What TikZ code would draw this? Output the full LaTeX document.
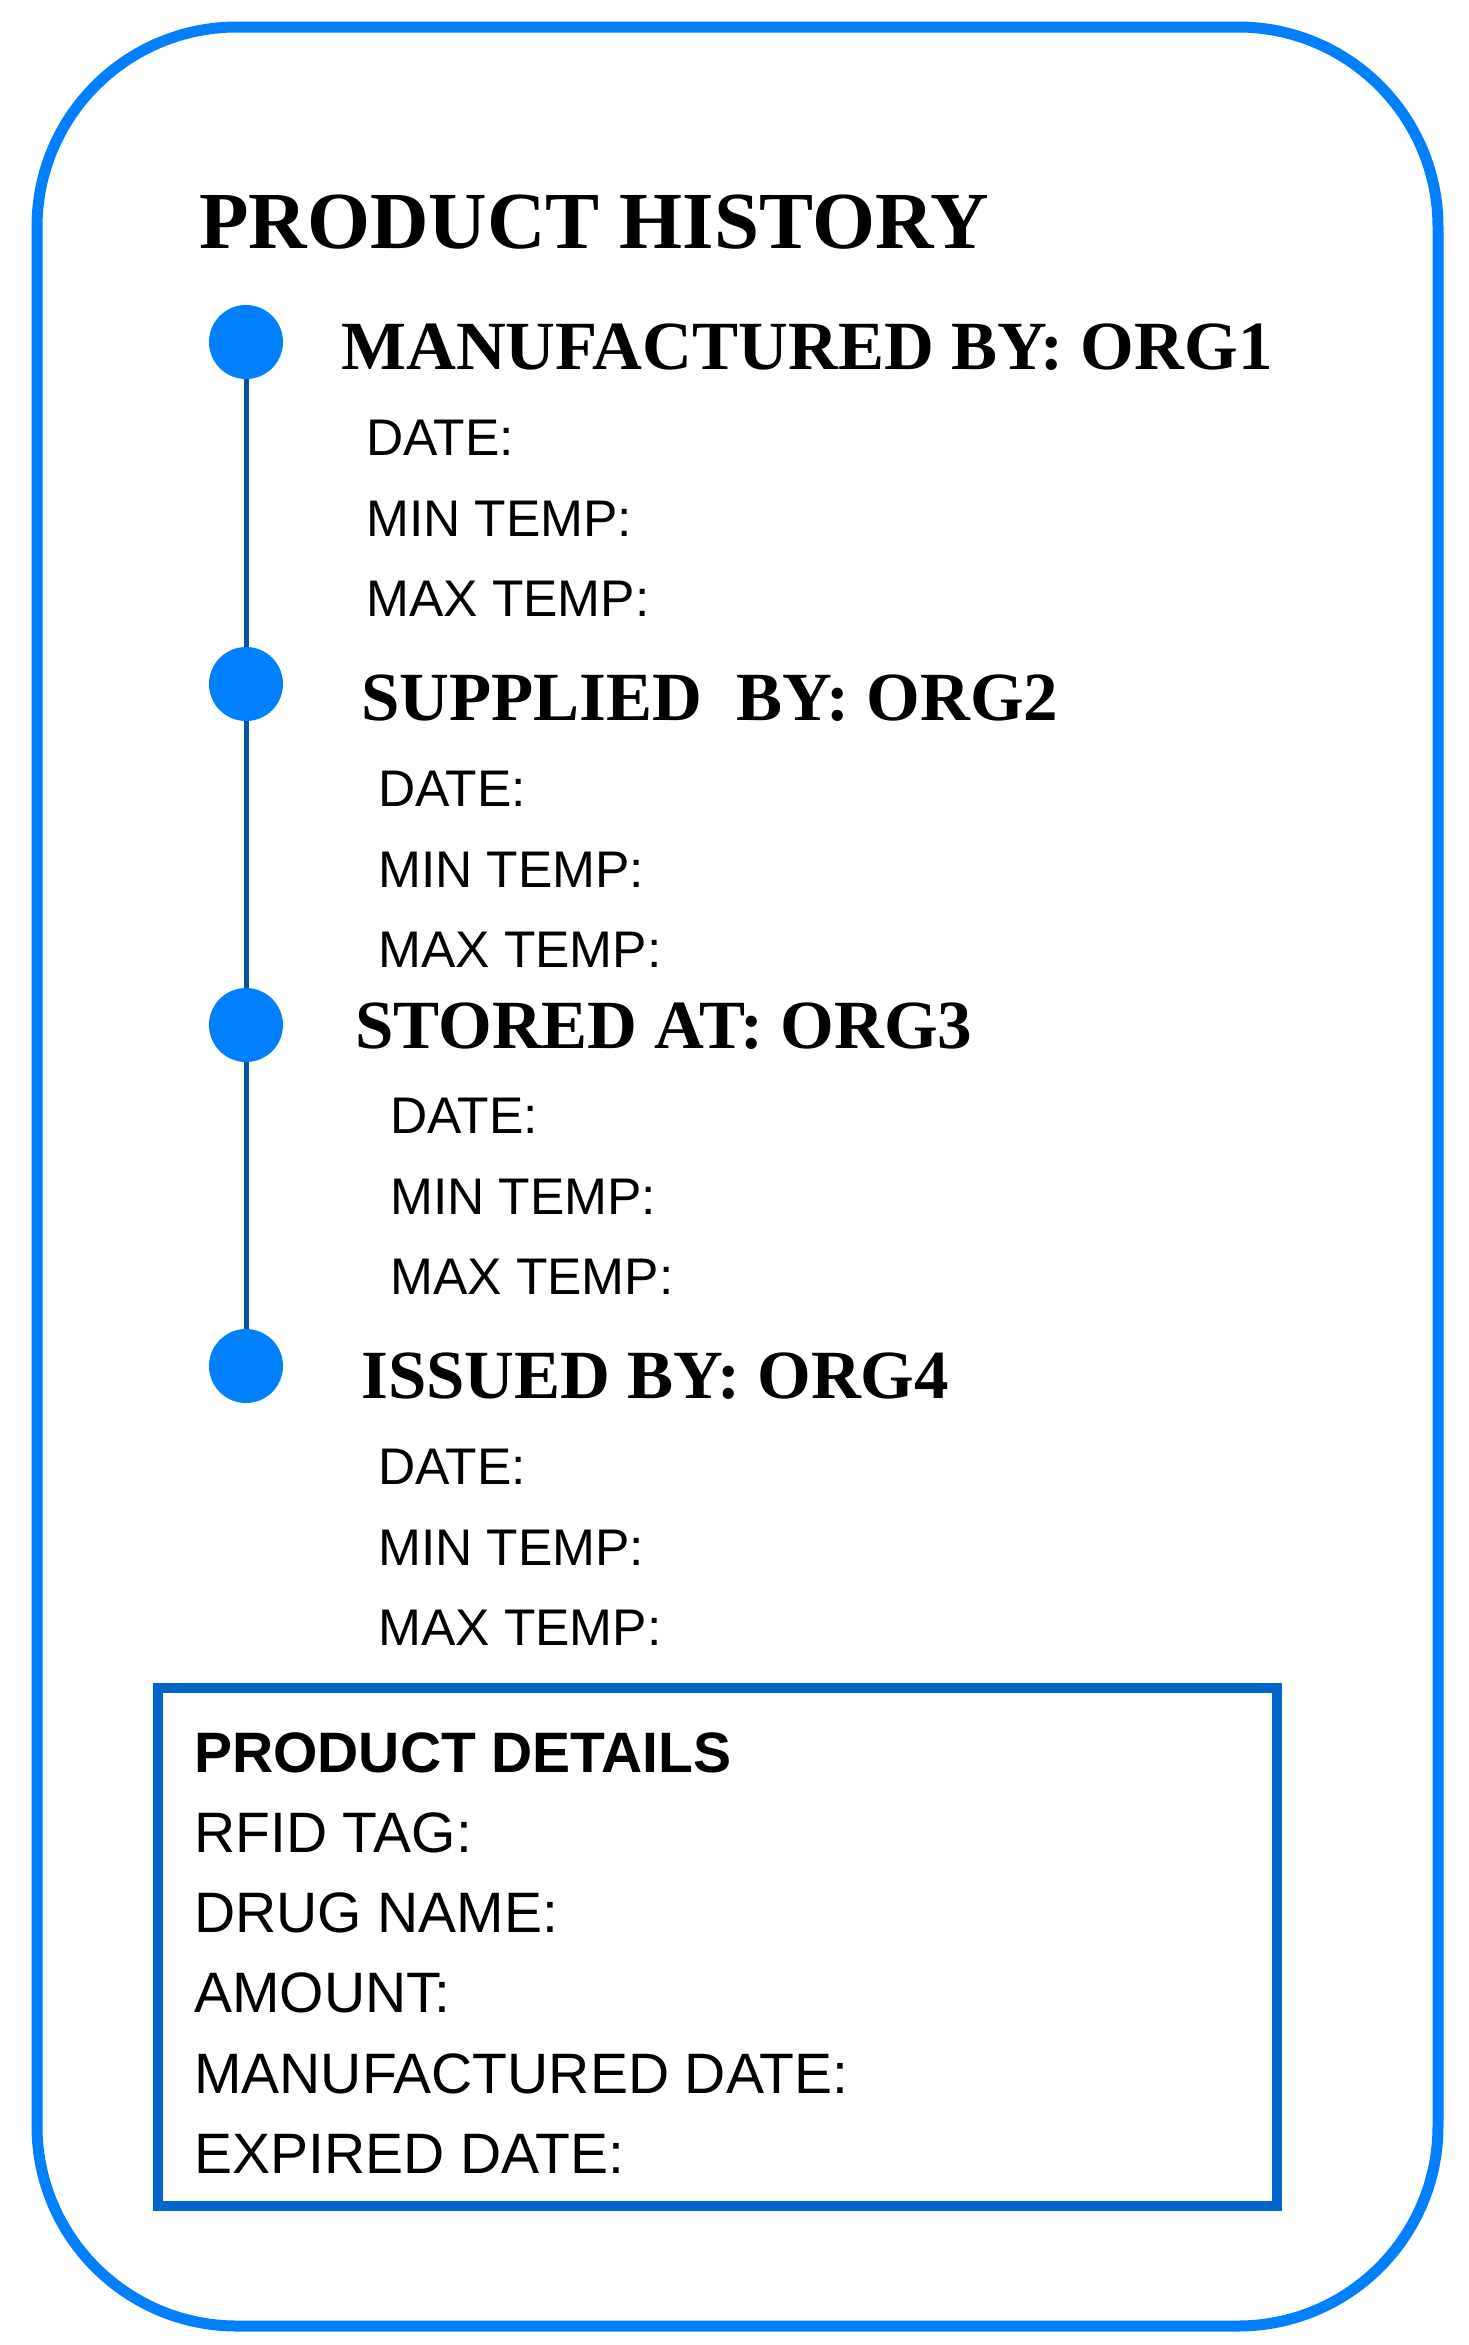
\documentclass[tikz,border=0pt]{standalone}
\usepackage{fontspec}
\setmainfont{Liberation Serif}
\setsansfont{Liberation Sans}
\definecolor{cardblue}{RGB}{0,128,255}
\definecolor{boxblue}{RGB}{2,102,204}
\definecolor{lineblue}{RGB}{6,82,164}
\begin{document}
\begin{tikzpicture}[x=1pt,y=-1pt,
			dot node/.style={circle,fill=cardblue,minimum size=74pt,inner sep=0pt},
			title node/.style={anchor=base west,inner sep=0pt,font=\fontsize{81}{90}\selectfont\bfseries},
			head node/.style={anchor=base west,inner sep=0pt,font=\fontsize{69}{80}\selectfont\bfseries},
			row node/.style={anchor=base west,inner sep=0pt,font=\sffamily\fontsize{51.5}{60}\selectfont},
			info node/.style={anchor=base west,inner sep=0pt,font=\sffamily\fontsize{57}{66}\selectfont}]
			
			\useasboundingbox (0,0) rectangle (1469,2345);
			\draw[cardblue,line width=11pt,rounded corners=200pt] (37,27) rectangle (1438,2326);
			
			\node[title node] (Title) at (199,248) {PRODUCT HISTORY};
			
			\node[dot node] (D1) at (246,342) {};
			\node[dot node] (D2) at (246,684) {};
			\node[dot node] (D3) at (246,1025) {};
			\node[dot node] (D4) at (246,1366) {};
			
			\draw[lineblue,line width=5pt] (D1) -- (D2) -- (D3) -- (D4);
			
			\node[head node] (H1) at (341,369) {MANUFACTURED BY: ORG1};
			\node[row node] (H1a) at (366,455) {DATE:};
			\node[row node] (H1b) at (366,536) {MIN TEMP:};
			\node[row node] (H1c) at (366,616) {MAX TEMP:};
			
			\node[head node] (H2) at (361,720) {SUPPLIED\ \ BY: ORG2};
			\node[row node] (H2a) at (378,806) {DATE:};
			\node[row node] (H2b) at (378,887) {MIN TEMP:};
			\node[row node] (H2c) at (378,967) {MAX TEMP:};
			
			\node[head node] (H3) at (355,1048) {STORED AT: ORG3};
			\node[row node] (H3a) at (390,1133) {DATE:};
			\node[row node] (H3b) at (390,1214) {MIN TEMP:};
			\node[row node] (H3c) at (390,1294) {MAX TEMP:};
			
			\node[head node] (H4) at (361,1398) {ISSUED BY: ORG4};
			\node[row node] (H4a) at (378,1484) {DATE:};
			\node[row node] (H4b) at (378,1565) {MIN TEMP:};
			\node[row node] (H4c) at (378,1645) {MAX TEMP:};
			
			\draw[boxblue,line width=10pt] (158,1688) rectangle (1277,2206);
			\node[info node,font=\sffamily\bfseries\fontsize{57}{66}\selectfont] (P0) at (194,1772) {PRODUCT DETAILS};
			\node[info node] (P1) at (194,1852) {RFID TAG:};
			\node[info node] (P2) at (194,1932) {DRUG NAME:};
			\node[info node] (P3) at (194,2012) {AMOUNT:};
			\node[info node] (P4) at (194,2093) {MANUFACTURED DATE:};
			\node[info node] (P5) at (194,2173) {EXPIRED DATE:};
			\end{tikzpicture}
\end{document}
